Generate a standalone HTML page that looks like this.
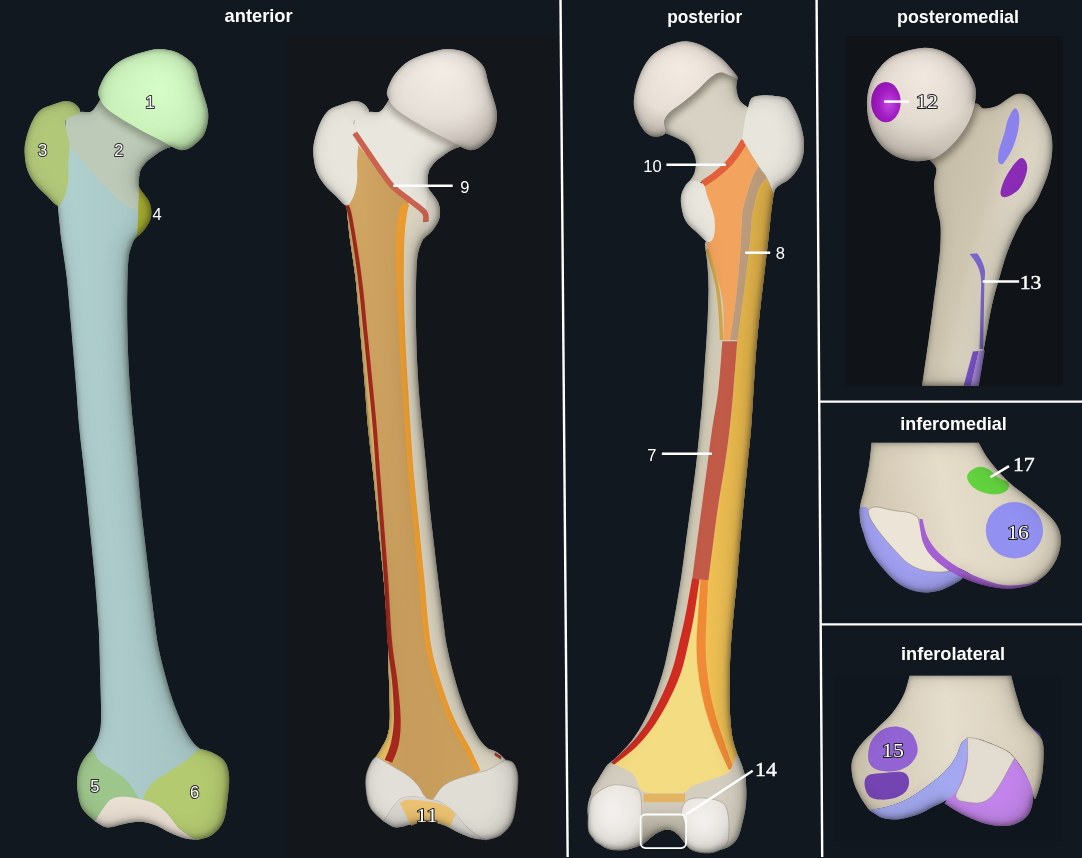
<!DOCTYPE html>
<html><head><meta charset="utf-8"><title>Femur</title>
<style>html,body{margin:0;padding:0;background:#111820;}svg{display:block}</style></head>
<body>
<svg width="1082" height="858" viewBox="0 0 1082 858">
<defs>
<filter id="inner" x="-5%" y="-5%" width="110%" height="110%" color-interpolation-filters="sRGB">
 <feGaussianBlur in="SourceAlpha" stdDeviation="3.2" result="b0"/>
 <feOffset in="b0" dx="-1.2" dy="-0.8" result="b"/>
 <feComposite in="SourceAlpha" in2="b" operator="arithmetic" k2="1" k3="-1" result="e"/>
 <feFlood flood-color="#1c1c18" flood-opacity="0.6"/>
 <feComposite in2="e" operator="in" result="sh"/>
 <feGaussianBlur in="SourceAlpha" stdDeviation="10" result="c0"/>
 <feOffset in="c0" dx="-5" dy="-2" result="c"/>
 <feComposite in="SourceAlpha" in2="c" operator="arithmetic" k2="1" k3="-1" result="e2"/>
 <feFlood flood-color="#15150f" flood-opacity="0.2"/>
 <feComposite in2="e2" operator="in" result="sh2"/>
 <feMerge><feMergeNode in="SourceGraphic"/><feMergeNode in="sh2"/><feMergeNode in="sh"/></feMerge>
</filter>
<filter id="blur3" x="-30%" y="-30%" width="160%" height="160%"><feGaussianBlur stdDeviation="3"/></filter>
<filter id="blur6" x="-30%" y="-30%" width="160%" height="160%"><feGaussianBlur stdDeviation="6"/></filter>
<clipPath id="cshaft1"><path d="M66.0,119.0C65.3,125.8 63.4,145.6 62.0,160.0C60.6,174.4 58.5,197.9 57.8,205.5C58.1,208.6 59.0,218.5 59.6,224.1C60.2,229.7 60.0,230.3 61.2,239.0C62.4,247.7 65.1,263.9 66.6,276.4C68.1,288.9 68.9,301.3 70.0,313.8C71.1,326.3 72.2,338.8 73.2,351.3C74.2,363.8 75.3,375.9 76.3,388.7C77.3,401.5 77.9,413.1 79.3,428.0C80.7,442.9 83.2,461.3 84.9,477.9C86.7,494.5 88.2,511.2 89.8,527.8C91.4,544.4 93.3,561.1 94.8,577.7C96.3,594.4 97.8,616.7 98.6,627.7C99.3,638.8 99.0,635.0 99.3,644.0C99.6,653.0 100.0,668.9 100.3,681.4C100.6,693.9 101.4,709.8 101.1,718.9C100.8,728.0 100.1,731.3 98.6,736.3C97.1,741.3 93.3,746.7 92.3,748.8C90.9,751.5 86.0,758.1 84.0,765.0C82.0,771.9 78.2,781.7 80.0,790.0C81.8,798.3 85.0,810.8 95.0,815.0C105.0,819.2 123.0,812.5 140.0,815.0C157.0,817.5 183.3,830.0 197.0,830.0C210.7,830.0 217.2,824.0 222.0,815.0C226.8,806.0 227.7,786.0 226.0,776.0C224.3,766.0 216.4,759.5 212.0,755.0C207.6,750.5 201.8,749.8 199.7,748.8C198.4,747.5 195.1,745.4 192.2,741.3C189.3,737.1 185.5,731.0 182.2,723.9C178.9,716.8 175.3,708.0 172.2,698.9C169.1,689.8 165.9,678.1 163.5,669.0C161.1,659.9 159.2,651.7 157.8,644.0C156.4,636.3 156.1,632.9 154.8,622.7C153.5,612.5 151.5,596.4 149.8,582.7C148.1,569.0 146.3,553.6 144.8,540.3C143.3,527.0 141.8,515.4 140.6,502.9C139.3,490.4 138.5,477.9 137.3,465.4C136.1,452.9 134.6,438.7 133.5,428.0C132.4,417.3 131.8,411.9 131.0,401.2C130.2,390.5 129.1,376.2 128.5,363.7C127.9,351.2 127.5,338.8 127.3,326.3C127.1,313.8 127.1,300.1 127.3,288.9C127.5,277.7 127.7,266.5 128.5,259.0C129.3,251.5 130.8,248.2 132.3,244.0C133.8,239.8 136.5,235.7 137.3,234.0C137.5,230.8 137.9,222.5 138.2,215.0C138.4,207.5 138.6,196.2 138.8,189.2C139.0,182.2 138.7,177.0 139.6,172.9C140.5,168.8 142.4,166.9 144.2,164.5C146.0,162.1 147.4,160.9 150.4,158.6C153.4,156.3 158.2,152.6 162.0,150.5C165.8,148.4 171.2,146.8 173.0,146.0C167.5,142.0 151.5,129.2 140.0,122.0C128.5,114.8 112.1,104.6 104.0,103.0C95.9,101.4 95.6,110.6 91.6,112.3C87.6,114.0 84.3,111.9 80.0,113.0C75.7,114.1 68.3,118.0 66.0,119.0Z"/></clipPath>
<clipPath id="cneck1"><path d="M66.0,117.0C68.3,116.2 75.7,113.0 80.0,112.0C84.3,111.0 88.3,113.3 91.6,111.3C94.9,109.3 98.6,101.9 100.0,100.0C106.7,103.7 127.8,114.3 140.0,122.0C152.2,129.7 167.5,142.0 173.0,146.0C171.2,146.8 165.8,148.4 162.0,150.5C158.2,152.6 153.4,156.3 150.4,158.6C147.4,160.9 146.0,162.1 144.2,164.5C142.4,166.9 140.5,168.8 139.6,172.9C138.7,177.0 139.2,182.7 138.8,189.2C138.5,195.7 137.7,208.2 137.5,212.0C136.4,211.3 134.2,209.9 131.2,208.0C128.2,206.1 124.3,204.7 119.6,200.8C114.9,196.9 108.7,190.3 103.2,184.5C97.8,178.7 92.5,172.5 86.9,165.9C81.3,159.3 72.3,148.4 69.4,144.9C68.8,142.2 66.5,133.2 65.9,128.6C65.3,123.9 66.0,118.9 66.0,117.0Z"/></clipPath>
<clipPath id="cneckP"><path d="M737.5,78.5C737.3,80.2 736.0,85.3 736.4,89.0C736.8,92.7 738.0,97.5 739.9,100.6C741.8,103.7 746.6,106.4 748.0,107.6C750.0,113.0 761.0,134.6 760.0,140.0C759.0,145.4 748.7,135.0 742.0,140.0C735.3,145.0 726.8,163.0 720.0,170.0C713.2,177.0 706.2,180.0 701.0,182.0C695.8,184.0 690.7,182.2 688.6,182.2C689.6,180.6 693.2,176.8 694.4,172.9C695.6,169.0 696.6,163.6 695.6,158.9C694.6,154.2 691.7,148.4 688.6,144.9C685.5,141.4 680.8,139.9 676.9,137.9C673.0,135.9 667.2,134.0 665.3,133.2C665.1,131.3 663.3,125.1 664.1,121.6C664.9,118.1 666.6,115.6 669.9,112.3C673.2,109.0 679.2,105.5 683.9,101.8C688.6,98.1 693.6,94.0 697.9,90.1C702.2,86.2 705.7,81.4 709.6,78.5C713.5,75.6 716.6,72.6 721.2,72.6C725.9,72.6 734.8,77.5 737.5,78.5Z"/></clipPath>
<clipPath id="cboneM"><path d="M950.0,120.0C954.0,117.3 968.8,105.8 974.3,103.9C979.8,102.0 979.6,108.0 983.3,108.4C987.0,108.8 992.2,108.0 996.7,106.1C1001.2,104.2 1006.4,99.2 1010.1,97.2C1013.8,95.2 1015.7,93.8 1019.1,93.8C1022.5,93.8 1026.6,94.0 1030.3,97.2C1034.0,100.4 1038.2,107.2 1041.5,112.8C1044.8,118.4 1048.6,124.3 1050.4,130.7C1052.2,137.0 1052.6,143.8 1052.2,150.9C1051.8,158.0 1050.4,165.8 1048.2,173.3C1046.0,180.8 1041.9,189.9 1039.2,195.7C1036.5,201.5 1034.5,204.2 1031.8,208.0C1029.1,211.8 1026.5,212.3 1022.8,218.7C1019.1,225.1 1013.1,237.3 1009.4,246.6C1005.6,255.9 1003.2,264.9 1000.3,274.6C997.4,284.3 994.3,294.8 992.0,304.9C989.7,315.0 988.1,325.5 986.3,335.2C984.5,344.9 982.8,354.8 981.3,363.2C979.8,371.6 978.0,382.0 977.4,385.8L922.1,385.8C922.4,383.6 922.8,380.1 923.9,372.5C925.0,364.9 927.0,351.2 928.6,339.9C930.2,328.6 931.8,316.6 933.3,304.9C934.8,293.2 936.7,279.6 937.9,269.9C939.1,260.2 939.9,254.4 940.3,246.6C940.7,238.8 941.0,230.2 940.3,223.3C939.6,216.4 937.0,211.5 936.0,205.0C935.0,198.5 934.0,190.5 934.0,184.5C934.0,178.5 937.0,172.9 936.3,168.8C935.5,164.7 930.6,161.3 929.5,159.8L950.0,120.0Z"/></clipPath>
<radialGradient id="headgreen" cx="0.55" cy="0.4" r="0.65"><stop offset="0" stop-color="#d6fcc8"/><stop offset="0.7" stop-color="#caf1ba"/><stop offset="1" stop-color="#b6dda6"/></radialGradient>
<radialGradient id="headwhite" cx="0.5" cy="0.2" r="0.85"><stop offset="0" stop-color="#f3ede6"/><stop offset="0.55" stop-color="#e7e0d8"/><stop offset="1" stop-color="#c3bbb2"/></radialGradient>
<radialGradient id="headwhiteP" cx="0.45" cy="0.3" r="0.75"><stop offset="0" stop-color="#f3ebe2"/><stop offset="0.6" stop-color="#e8dfd6"/><stop offset="1" stop-color="#c2b9af"/></radialGradient>
<radialGradient id="headwhiteM" cx="0.52" cy="0.25" r="0.85"><stop offset="0" stop-color="#f1e9e0"/><stop offset="0.5" stop-color="#e2d9cf"/><stop offset="1" stop-color="#b2a99f"/></radialGradient>
<radialGradient id="fovea" cx="0.6" cy="0.55" r="0.7"><stop offset="0" stop-color="#c04ae0"/><stop offset="0.5" stop-color="#a21cc2"/><stop offset="1" stop-color="#8a14aa"/></radialGradient>
<linearGradient id="yellowP" gradientUnits="userSpaceOnUse" x1="0" y1="180" x2="0" y2="640"><stop offset="0" stop-color="#dcae48"/><stop offset="0.45" stop-color="#e6b64c"/><stop offset="1" stop-color="#f0c155"/></linearGradient>
<linearGradient id="boneMg" gradientUnits="userSpaceOnUse" x1="930" y1="200" x2="1040" y2="230"><stop offset="0" stop-color="#c6bda8"/><stop offset="0.45" stop-color="#cfc6b2"/><stop offset="0.72" stop-color="#ddd6c5"/><stop offset="1" stop-color="#e4dfd2"/></linearGradient>
<linearGradient id="fossag" x1="0" y1="0" x2="0" y2="1"><stop offset="0" stop-color="#d6d1c4"/><stop offset="1" stop-color="#a9a493"/></linearGradient>
<radialGradient id="condg" cx="0.45" cy="0.4" r="0.7"><stop offset="0" stop-color="#f3f1ee"/><stop offset="0.7" stop-color="#e9e6e1"/><stop offset="1" stop-color="#cfcbc3"/></radialGradient>
<linearGradient id="boneIMg" gradientUnits="userSpaceOnUse" x1="870" y1="520" x2="1040" y2="480"><stop offset="0" stop-color="#cfc5b0"/><stop offset="0.45" stop-color="#e5dcca"/><stop offset="1" stop-color="#dad1be"/></linearGradient>
<linearGradient id="boneILg" gradientUnits="userSpaceOnUse" x1="860" y1="740" x2="1040" y2="720"><stop offset="0" stop-color="#cdc4b0"/><stop offset="0.5" stop-color="#e6decd"/><stop offset="1" stop-color="#d6cdb9"/></linearGradient>
<linearGradient id="tang" x1="0" y1="0" x2="1" y2="0"><stop offset="0" stop-color="#d4a966"/><stop offset="0.45" stop-color="#c69b5b"/><stop offset="1" stop-color="#cba15f"/></linearGradient>
<linearGradient id="shaftblue" x1="0" x2="1" y1="0" y2="0"><stop offset="0" stop-color="#b0cfcf"/><stop offset="1" stop-color="#a2c2c0"/></linearGradient>
</defs>
<rect width="1082" height="858" fill="#111820"/>
<rect x="287.8" y="37" width="270.6" height="821" fill="#13161b"/>
<g filter="url(#inner)" transform="translate(0,0)">
<path d="M138.0,188.0C139.2,184.0 139.5,188.5 141.5,191.0C143.5,193.5 148.3,198.8 149.9,203.2C151.5,207.6 151.8,212.9 151.0,217.2C150.2,221.5 147.3,225.7 145.2,228.8C143.1,231.9 140.2,234.3 138.2,235.8C136.2,237.3 133.7,241.5 133.0,238.0C132.3,234.5 133.2,223.3 134.0,215.0C134.8,206.7 136.8,192.0 138.0,188.0Z" fill="#a9b12c"/>
<path d="M66.0,119.0C65.3,125.8 63.4,145.6 62.0,160.0C60.6,174.4 58.5,197.9 57.8,205.5C58.1,208.6 59.0,218.5 59.6,224.1C60.2,229.7 60.0,230.3 61.2,239.0C62.4,247.7 65.1,263.9 66.6,276.4C68.1,288.9 68.9,301.3 70.0,313.8C71.1,326.3 72.2,338.8 73.2,351.3C74.2,363.8 75.3,375.9 76.3,388.7C77.3,401.5 77.9,413.1 79.3,428.0C80.7,442.9 83.2,461.3 84.9,477.9C86.7,494.5 88.2,511.2 89.8,527.8C91.4,544.4 93.3,561.1 94.8,577.7C96.3,594.4 97.8,616.7 98.6,627.7C99.3,638.8 99.0,635.0 99.3,644.0C99.6,653.0 100.0,668.9 100.3,681.4C100.6,693.9 101.4,709.8 101.1,718.9C100.8,728.0 100.1,731.3 98.6,736.3C97.1,741.3 93.3,746.7 92.3,748.8C90.9,751.5 86.0,758.1 84.0,765.0C82.0,771.9 78.2,781.7 80.0,790.0C81.8,798.3 85.0,810.8 95.0,815.0C105.0,819.2 123.0,812.5 140.0,815.0C157.0,817.5 183.3,830.0 197.0,830.0C210.7,830.0 217.2,824.0 222.0,815.0C226.8,806.0 227.7,786.0 226.0,776.0C224.3,766.0 216.4,759.5 212.0,755.0C207.6,750.5 201.8,749.8 199.7,748.8C198.4,747.5 195.1,745.4 192.2,741.3C189.3,737.1 185.5,731.0 182.2,723.9C178.9,716.8 175.3,708.0 172.2,698.9C169.1,689.8 165.9,678.1 163.5,669.0C161.1,659.9 159.2,651.7 157.8,644.0C156.4,636.3 156.1,632.9 154.8,622.7C153.5,612.5 151.5,596.4 149.8,582.7C148.1,569.0 146.3,553.6 144.8,540.3C143.3,527.0 141.8,515.4 140.6,502.9C139.3,490.4 138.5,477.9 137.3,465.4C136.1,452.9 134.6,438.7 133.5,428.0C132.4,417.3 131.8,411.9 131.0,401.2C130.2,390.5 129.1,376.2 128.5,363.7C127.9,351.2 127.5,338.8 127.3,326.3C127.1,313.8 127.1,300.1 127.3,288.9C127.5,277.7 127.7,266.5 128.5,259.0C129.3,251.5 130.8,248.2 132.3,244.0C133.8,239.8 136.5,235.7 137.3,234.0C137.5,230.8 137.9,222.5 138.2,215.0C138.4,207.5 138.6,196.2 138.8,189.2C139.0,182.2 138.7,177.0 139.6,172.9C140.5,168.8 142.4,166.9 144.2,164.5C146.0,162.1 147.4,160.9 150.4,158.6C153.4,156.3 158.2,152.6 162.0,150.5C165.8,148.4 171.2,146.8 173.0,146.0C167.5,142.0 151.5,129.2 140.0,122.0C128.5,114.8 112.1,104.6 104.0,103.0C95.9,101.4 95.6,110.6 91.6,112.3C87.6,114.0 84.3,111.9 80.0,113.0C75.7,114.1 68.3,118.0 66.0,119.0Z" fill="url(#shaftblue)"/>
<path d="M66.0,117.0C68.3,116.2 75.7,113.0 80.0,112.0C84.3,111.0 88.3,113.3 91.6,111.3C94.9,109.3 98.6,101.9 100.0,100.0C106.7,103.7 127.8,114.3 140.0,122.0C152.2,129.7 167.5,142.0 173.0,146.0C171.2,146.8 165.8,148.4 162.0,150.5C158.2,152.6 153.4,156.3 150.4,158.6C147.4,160.9 146.0,162.1 144.2,164.5C142.4,166.9 140.5,168.8 139.6,172.9C138.7,177.0 139.2,182.7 138.8,189.2C138.5,195.7 137.7,208.2 137.5,212.0C136.4,211.3 134.2,209.9 131.2,208.0C128.2,206.1 124.3,204.7 119.6,200.8C114.9,196.9 108.7,190.3 103.2,184.5C97.8,178.7 92.5,172.5 86.9,165.9C81.3,159.3 72.3,148.4 69.4,144.9C68.8,142.2 66.5,133.2 65.9,128.6C65.3,123.9 66.0,118.9 66.0,117.0Z" fill="#bdcab8"/>
<path d="M79.9,112.3C81.4,109.8 77.6,106.0 75.3,104.1C73.0,102.2 69.4,101.1 65.9,101.1C62.4,101.1 58.6,102.6 54.3,104.1C50.0,105.6 44.0,107.0 40.3,109.9C36.6,112.8 34.4,116.9 32.1,121.6C29.8,126.3 27.6,132.8 26.3,137.9C25.0,143.0 24.3,146.5 24.5,151.9C24.7,157.3 25.6,165.1 27.5,170.5C29.4,175.9 32.3,180.2 35.6,184.5C38.9,188.8 43.6,192.7 47.3,196.2C51.0,199.7 54.9,205.5 57.8,205.5C60.7,205.5 63.0,200.5 64.8,196.2C66.5,191.9 67.7,185.7 68.3,179.9C68.9,174.1 68.1,167.0 68.3,161.2C68.5,155.4 69.8,150.3 69.4,144.9C69.0,139.5 66.4,132.9 65.9,128.6C65.4,124.3 64.2,122.0 66.5,119.3C68.8,116.6 78.4,114.8 79.9,112.3Z" fill="#b2c879"/>
<g clip-path="url(#cneck1)"><path d="M98.6,90.1C99.7,86.0 102.8,78.7 106.5,73.8C110.2,68.9 114.9,64.3 120.6,60.8C126.3,57.3 134.1,54.8 140.5,52.8C146.9,50.8 153.0,48.9 159.2,48.9C165.4,48.9 172.0,50.0 177.8,52.8C183.6,55.6 190.4,60.3 194.1,65.6C197.8,70.8 197.7,76.5 200.0,84.3C202.3,92.1 207.3,104.2 208.1,112.3C208.9,120.4 206.9,127.8 204.6,133.2C202.3,138.6 197.5,142.1 194.1,144.9C190.7,147.7 187.3,149.5 184.0,150.0C180.7,150.5 178.6,149.7 174.5,148.0C170.4,146.3 165.2,142.8 159.5,139.8C153.8,136.8 147.2,133.7 140.5,130.0C133.8,126.3 125.4,121.5 119.6,117.8C113.8,114.1 108.9,110.8 105.6,107.6C102.3,104.3 100.9,101.2 99.7,98.3C98.5,95.4 97.5,94.2 98.6,90.1Z" transform="translate(-2,5)" fill="#1a2a10" opacity="0.28" filter="url(#blur3)"/></g>
<path d="M98.6,90.1C99.7,86.0 102.8,78.7 106.5,73.8C110.2,68.9 114.9,64.3 120.6,60.8C126.3,57.3 134.1,54.8 140.5,52.8C146.9,50.8 153.0,48.9 159.2,48.9C165.4,48.9 172.0,50.0 177.8,52.8C183.6,55.6 190.4,60.3 194.1,65.6C197.8,70.8 197.7,76.5 200.0,84.3C202.3,92.1 207.3,104.2 208.1,112.3C208.9,120.4 206.9,127.8 204.6,133.2C202.3,138.6 197.5,142.1 194.1,144.9C190.7,147.7 187.3,149.5 184.0,150.0C180.7,150.5 178.6,149.7 174.5,148.0C170.4,146.3 165.2,142.8 159.5,139.8C153.8,136.8 147.2,133.7 140.5,130.0C133.8,126.3 125.4,121.5 119.6,117.8C113.8,114.1 108.9,110.8 105.6,107.6C102.3,104.3 100.9,101.2 99.7,98.3C98.5,95.4 97.5,94.2 98.6,90.1Z" fill="url(#headgreen)"/>
<path d="M92.3,748.8C90.7,750.9 84.9,756.7 82.4,761.3C79.9,765.9 78.2,770.9 77.4,776.3C76.7,781.7 77.1,788.3 77.9,793.7C78.7,799.1 79.6,804.1 82.4,808.7C85.2,813.3 92.7,819.1 94.8,821.2C96.5,818.7 101.9,810.0 104.8,806.2C107.7,802.5 109.0,800.3 112.3,798.7C115.6,797.1 120.2,796.6 124.8,796.7C129.4,796.8 137.3,798.8 139.8,799.2C139.2,798.3 138.1,796.7 136.0,793.7C133.9,790.7 130.8,785.0 127.3,781.3C123.8,777.6 119.4,774.6 114.8,771.3C110.2,768.0 103.5,765.0 99.8,761.3C96.0,757.5 93.5,750.9 92.3,748.8Z" fill="#9dc68c"/>
<path d="M199.7,748.8C201.8,749.4 207.9,750.5 212.1,752.6C216.2,754.7 221.8,757.3 224.6,761.3C227.4,765.2 228.6,770.1 229.1,776.3C229.6,782.5 228.5,791.2 227.6,798.7C226.7,806.2 226.0,815.2 223.4,821.2C220.8,827.2 216.5,831.8 212.1,834.9C207.7,838.0 199.7,839.1 197.2,839.9C195.9,839.3 193.0,838.5 189.7,836.2C186.4,833.9 180.9,830.0 177.2,826.2C173.4,822.5 170.9,817.5 167.2,813.7C163.4,810.0 158.6,806.1 154.7,803.7C150.8,801.3 145.4,800.0 143.5,799.2C143.9,797.9 144.1,794.2 146.0,791.2C147.9,788.2 150.8,784.6 154.7,781.3C158.6,778.0 164.7,774.6 169.7,771.3C174.7,768.0 179.7,765.0 184.7,761.3C189.7,757.5 197.2,750.9 199.7,748.8Z" fill="#b4ca70"/>
<path d="M94.8,821.2C96.5,818.7 101.9,810.0 104.8,806.2C107.7,802.5 109.0,800.3 112.3,798.7C115.6,797.1 120.2,796.6 124.8,796.7C129.4,796.8 134.8,798.0 139.8,799.2C144.8,800.4 150.1,801.3 154.7,803.7C159.3,806.1 163.4,810.0 167.2,813.7C170.9,817.5 173.4,822.5 177.2,826.2C180.9,830.0 186.4,833.9 189.7,836.2C193.0,838.5 195.9,839.3 197.2,839.9C195.1,839.6 189.3,839.5 184.7,838.2C180.1,837.0 174.7,834.6 169.7,832.4C164.7,830.2 159.7,826.7 154.7,824.9C149.7,823.1 144.8,821.9 139.8,821.7C134.8,821.5 130.2,822.8 124.8,823.7C119.4,824.7 112.3,827.8 107.3,827.4C102.3,827.0 96.9,822.2 94.8,821.2Z" fill="#eadfd3"/>
</g>
<g filter="url(#inner)" transform="translate(288.7,0)">
<path d="M138.0,188.0C139.2,184.0 139.5,188.5 141.5,191.0C143.5,193.5 148.3,198.8 149.9,203.2C151.5,207.6 151.8,212.9 151.0,217.2C150.2,221.5 147.3,225.7 145.2,228.8C143.1,231.9 140.2,234.3 138.2,235.8C136.2,237.3 133.7,241.5 133.0,238.0C132.3,234.5 133.2,223.3 134.0,215.0C134.8,206.7 136.8,192.0 138.0,188.0Z" fill="#dedace"/>
<path d="M66.0,119.0C65.3,125.8 63.4,145.6 62.0,160.0C60.6,174.4 58.5,197.9 57.8,205.5C58.1,208.6 59.0,218.5 59.6,224.1C60.2,229.7 60.0,230.3 61.2,239.0C62.4,247.7 65.1,263.9 66.6,276.4C68.1,288.9 68.9,301.3 70.0,313.8C71.1,326.3 72.2,338.8 73.2,351.3C74.2,363.8 75.3,375.9 76.3,388.7C77.3,401.5 77.9,413.1 79.3,428.0C80.7,442.9 83.2,461.3 84.9,477.9C86.7,494.5 88.2,511.2 89.8,527.8C91.4,544.4 93.3,561.1 94.8,577.7C96.3,594.4 97.8,616.7 98.6,627.7C99.3,638.8 99.0,635.0 99.3,644.0C99.6,653.0 100.0,668.9 100.3,681.4C100.6,693.9 101.4,709.8 101.1,718.9C100.8,728.0 100.1,731.3 98.6,736.3C97.1,741.3 93.3,746.7 92.3,748.8C90.9,751.5 86.0,758.1 84.0,765.0C82.0,771.9 78.2,781.7 80.0,790.0C81.8,798.3 85.0,810.8 95.0,815.0C105.0,819.2 123.0,812.5 140.0,815.0C157.0,817.5 183.3,830.0 197.0,830.0C210.7,830.0 217.2,824.0 222.0,815.0C226.8,806.0 227.7,786.0 226.0,776.0C224.3,766.0 216.4,759.5 212.0,755.0C207.6,750.5 201.8,749.8 199.7,748.8C198.4,747.5 195.1,745.4 192.2,741.3C189.3,737.1 185.5,731.0 182.2,723.9C178.9,716.8 175.3,708.0 172.2,698.9C169.1,689.8 165.9,678.1 163.5,669.0C161.1,659.9 159.2,651.7 157.8,644.0C156.4,636.3 156.1,632.9 154.8,622.7C153.5,612.5 151.5,596.4 149.8,582.7C148.1,569.0 146.3,553.6 144.8,540.3C143.3,527.0 141.8,515.4 140.6,502.9C139.3,490.4 138.5,477.9 137.3,465.4C136.1,452.9 134.6,438.7 133.5,428.0C132.4,417.3 131.8,411.9 131.0,401.2C130.2,390.5 129.1,376.2 128.5,363.7C127.9,351.2 127.5,338.8 127.3,326.3C127.1,313.8 127.1,300.1 127.3,288.9C127.5,277.7 127.7,266.5 128.5,259.0C129.3,251.5 130.8,248.2 132.3,244.0C133.8,239.8 136.5,235.7 137.3,234.0C137.5,230.8 137.9,222.5 138.2,215.0C138.4,207.5 138.6,196.2 138.8,189.2C139.0,182.2 138.7,177.0 139.6,172.9C140.5,168.8 142.4,166.9 144.2,164.5C146.0,162.1 147.4,160.9 150.4,158.6C153.4,156.3 158.2,152.6 162.0,150.5C165.8,148.4 171.2,146.8 173.0,146.0C167.5,142.0 151.5,129.2 140.0,122.0C128.5,114.8 112.1,104.6 104.0,103.0C95.9,101.4 95.6,110.6 91.6,112.3C87.6,114.0 84.3,111.9 80.0,113.0C75.7,114.1 68.3,118.0 66.0,119.0Z" fill="#dad3c0"/>
<path d="M66.0,133.0C69.1,137.5 78.3,151.2 84.5,160.0C90.7,168.8 97.0,178.9 103.2,185.7C109.4,192.5 118.8,198.3 121.9,200.8C120.6,203.0 115.7,207.6 114.0,214.0C112.3,220.4 111.9,226.5 111.5,239.0C111.1,251.5 111.2,272.3 111.5,288.9C111.8,305.5 112.7,322.2 113.5,338.8C114.3,355.4 115.6,373.8 116.5,388.7C117.4,403.6 118.0,413.1 119.0,428.0C120.0,442.9 121.2,461.3 122.7,478.0C124.2,494.7 126.0,511.3 127.7,528.0C129.4,544.7 130.8,559.0 132.7,578.0C134.6,597.0 136.3,624.8 139.0,642.0C141.7,659.2 145.0,668.6 148.9,681.4C152.8,694.2 157.6,707.7 162.5,718.9C167.4,730.1 174.0,740.1 178.5,748.8C183.0,757.5 187.7,767.5 189.5,771.3L189.5,772.0C188.6,772.3 188.6,772.4 184.2,773.9C179.8,775.4 168.4,778.6 163.1,780.9C157.8,783.2 155.5,785.1 152.6,787.9C149.7,790.7 147.4,795.4 145.6,797.6C143.8,799.8 142.5,800.7 141.5,801.0C140.5,801.3 140.5,800.4 139.4,799.4C138.3,798.4 136.6,797.2 135.0,795.0C133.4,792.8 132.4,789.4 129.8,786.2C127.2,783.0 123.9,779.2 119.2,775.7C114.5,772.2 107.0,768.3 101.7,765.1C96.4,761.9 89.9,757.8 87.6,756.3C88.4,755.0 90.5,752.1 92.3,748.8C94.1,745.5 97.1,741.3 98.6,736.3C100.1,731.3 100.8,728.0 101.1,718.9C101.4,709.8 100.6,693.9 100.3,681.4C100.0,668.9 99.6,653.0 99.3,644.0C99.0,635.0 99.3,638.8 98.6,627.7C97.8,616.7 96.3,594.4 94.8,577.7C93.3,561.1 91.4,544.4 89.8,527.8C88.2,511.2 86.7,494.5 84.9,477.9C83.2,461.3 80.7,442.9 79.3,428.0C77.9,413.1 77.3,401.5 76.3,388.7C75.3,375.9 74.2,363.8 73.2,351.3C72.2,338.8 71.1,326.3 70.0,313.8C68.9,301.3 68.1,288.9 66.6,276.4C65.1,263.9 62.4,247.7 61.2,239.0C60.0,230.3 60.2,229.7 59.6,224.1C59.0,218.5 58.1,208.6 57.8,205.5C59.0,203.9 63.0,200.5 64.8,196.2C66.5,191.9 67.7,185.7 68.3,179.9C68.9,174.1 68.1,167.0 68.3,161.2C68.5,155.4 69.8,149.6 69.4,144.9C69.0,140.2 66.6,135.0 66.0,133.0Z" fill="url(#tang)"/>
<path d="M87.6,756.3C88.4,755.0 90.5,752.1 92.3,748.8C94.1,745.5 97.1,741.3 98.6,736.3C100.1,731.3 100.8,728.0 101.1,718.9C101.4,709.8 100.6,693.9 100.3,681.4C100.0,668.9 99.5,650.2 99.3,644.0C100.1,650.2 102.8,668.9 104.0,681.4C105.2,693.9 106.5,708.5 106.6,718.9C106.7,729.3 105.6,736.4 104.5,743.8C103.4,751.1 100.6,759.8 99.8,763.0L87.6,756.3Z" fill="#e6c060"/>
<g clip-path="url(#cshaft1)"><path d="M61.1,214.0C62.2,220.2 65.5,238.9 67.4,251.4C69.3,263.9 70.7,274.3 72.4,288.9C74.1,303.5 75.7,322.2 77.4,338.8C79.1,355.4 81.0,373.8 82.4,388.7C83.9,403.6 84.9,413.1 86.1,428.0C87.3,442.9 88.5,461.3 89.8,478.0C91.0,494.7 92.3,511.3 93.6,528.0C94.8,544.7 96.0,559.0 97.3,578.0C98.5,597.0 99.6,624.8 101.1,642.0C102.6,659.2 104.8,668.6 106.1,681.4C107.3,694.2 108.6,708.5 108.6,718.9C108.6,729.3 107.6,736.7 106.1,743.8C104.6,750.9 100.8,758.4 99.8,761.3" transform="translate(-3.2,0)" fill="none" stroke="#dfc070" stroke-width="4.5"/></g>
<path d="M52.6,196.6C53.3,198.1 55.3,202.7 56.4,205.6C57.5,208.6 57.8,206.7 59.3,214.4C60.9,222.0 63.7,239.2 65.5,251.7C67.4,264.1 68.8,274.6 70.4,289.1C72.1,303.7 73.7,322.4 75.4,339.0C77.1,355.6 79.0,374.0 80.4,388.9C81.9,403.8 82.9,413.3 84.1,428.2C85.3,443.0 86.6,461.5 87.8,478.1C89.1,494.8 90.4,511.5 91.6,528.1C92.8,544.8 94.0,559.1 95.2,578.1C96.4,597.1 97.4,624.9 98.8,642.2C100.2,659.4 102.3,668.9 103.4,681.7C104.5,694.4 105.4,708.7 105.2,718.9C105.0,729.1 103.7,736.1 102.2,743.0C100.7,749.8 97.1,757.1 96.0,759.9L103.6,762.7C104.6,759.6 108.6,751.9 110.0,744.6C111.4,737.3 112.2,729.5 112.0,718.9C111.8,708.3 110.2,694.0 108.8,681.1C107.4,668.3 105.0,659.0 103.4,641.8C101.8,624.6 100.7,596.9 99.4,577.9C98.1,558.9 96.9,544.5 95.6,527.9C94.3,511.2 93.0,494.5 91.8,477.9C90.5,461.2 89.3,442.7 88.1,427.8C86.9,412.9 85.8,403.4 84.4,388.5C82.9,373.6 81.1,355.2 79.4,338.6C77.7,322.0 76.1,303.3 74.4,288.7C72.7,274.1 71.2,263.6 69.3,251.1C67.4,238.6 64.5,221.4 62.9,213.6C61.2,205.9 60.8,207.4 59.6,204.4C58.3,201.3 56.1,196.9 55.4,195.4Z" fill="#a8281e"/>
<path d="M113.9,202.9C113.2,204.7 110.9,207.3 109.8,213.3C108.7,219.3 107.6,226.2 107.3,238.9C106.9,251.5 107.4,272.3 107.9,289.0C108.4,305.7 109.5,322.3 110.4,339.0C111.4,355.6 112.6,374.0 113.6,388.9C114.6,403.8 115.2,413.3 116.2,428.2C117.3,443.1 118.5,461.6 119.9,478.2C121.4,494.9 123.2,511.6 124.9,528.3C126.6,545.0 128.0,559.3 129.9,578.3C131.8,597.3 133.5,625.1 136.2,642.4C139.0,659.8 142.3,669.3 146.2,682.2C150.2,695.2 155.0,708.7 159.9,720.0C164.9,731.3 171.5,741.3 176.0,750.1C180.5,758.8 185.3,768.7 187.2,772.4L191.8,770.2C190.0,766.4 185.5,756.2 181.0,747.5C176.5,738.8 170.0,728.9 165.1,717.8C160.2,706.6 155.5,693.3 151.6,680.6C147.7,667.9 144.4,658.7 141.8,641.6C139.1,624.4 137.4,596.7 135.5,577.7C133.6,558.7 132.2,544.4 130.5,527.7C128.8,511.1 126.9,494.4 125.5,477.8C124.0,461.1 122.8,442.7 121.8,427.8C120.8,412.9 120.3,403.4 119.4,388.5C118.5,373.7 117.3,355.3 116.6,338.6C115.9,322.0 115.2,305.4 115.1,288.8C115.0,272.2 115.2,251.5 115.7,239.1C116.3,226.8 117.4,220.4 118.2,214.7C119.0,209.0 120.1,206.7 120.5,205.1Z" fill="#ea9c30"/>
<path d="M66.0,117.0C68.3,116.2 75.7,113.0 80.0,112.0C84.3,111.0 88.3,113.3 91.6,111.3C94.9,109.3 98.6,101.9 100.0,100.0C106.7,103.7 127.8,114.3 140.0,122.0C152.2,129.7 167.5,142.0 173.0,146.0C171.2,146.8 165.8,148.4 162.0,150.5C158.2,152.6 153.4,156.3 150.4,158.6C147.4,160.9 146.0,162.1 144.2,164.5C142.4,166.9 140.5,168.8 139.6,172.9C138.7,177.0 139.2,182.7 138.8,189.2C138.5,195.7 137.7,208.2 137.5,212.0C136.4,211.3 134.2,209.9 131.2,208.0C128.2,206.1 124.3,204.7 119.6,200.8C114.9,196.9 108.7,190.3 103.2,184.5C97.8,178.7 92.5,172.5 86.9,165.9C81.3,159.3 72.3,148.4 69.4,144.9C68.8,142.2 66.5,133.2 65.9,128.6C65.3,123.9 66.0,118.9 66.0,117.0Z" fill="#e9e6dd"/>
<path d="M79.9,112.3C81.4,109.8 77.6,106.0 75.3,104.1C73.0,102.2 69.4,101.1 65.9,101.1C62.4,101.1 58.6,102.6 54.3,104.1C50.0,105.6 44.0,107.0 40.3,109.9C36.6,112.8 34.4,116.9 32.1,121.6C29.8,126.3 27.6,132.8 26.3,137.9C25.0,143.0 24.3,146.5 24.5,151.9C24.7,157.3 25.6,165.1 27.5,170.5C29.4,175.9 32.3,180.2 35.6,184.5C38.9,188.8 43.6,192.7 47.3,196.2C51.0,199.7 54.9,205.5 57.8,205.5C60.7,205.5 63.0,200.5 64.8,196.2C66.5,191.9 67.7,185.7 68.3,179.9C68.9,174.1 68.1,167.0 68.3,161.2C68.5,155.4 69.8,150.3 69.4,144.9C69.0,139.5 66.4,132.9 65.9,128.6C65.4,124.3 64.2,122.0 66.5,119.3C68.8,116.6 78.4,114.8 79.9,112.3Z" fill="#e8e5dc"/>
<path d="M66.0,133.0C69.1,137.5 78.3,151.2 84.5,160.0C90.7,168.8 97.0,178.9 103.2,185.7C109.4,192.5 116.5,196.3 121.9,200.8C127.4,205.3 133.4,209.0 135.9,212.5C138.4,216.0 136.8,220.4 137.0,222.0" fill="none" stroke="#cb6250" stroke-width="5.6"/>
<g clip-path="url(#cneck1)"><path d="M98.6,90.1C99.7,86.0 102.8,78.7 106.5,73.8C110.2,68.9 114.9,64.3 120.6,60.8C126.3,57.3 134.1,54.8 140.5,52.8C146.9,50.8 153.0,48.9 159.2,48.9C165.4,48.9 172.0,50.0 177.8,52.8C183.6,55.6 190.4,60.3 194.1,65.6C197.8,70.8 197.7,76.5 200.0,84.3C202.3,92.1 207.3,104.2 208.1,112.3C208.9,120.4 206.9,127.8 204.6,133.2C202.3,138.6 197.5,142.1 194.1,144.9C190.7,147.7 187.3,149.5 184.0,150.0C180.7,150.5 178.6,149.7 174.5,148.0C170.4,146.3 165.2,142.8 159.5,139.8C153.8,136.8 147.2,133.7 140.5,130.0C133.8,126.3 125.4,121.5 119.6,117.8C113.8,114.1 108.9,110.8 105.6,107.6C102.3,104.3 100.9,101.2 99.7,98.3C98.5,95.4 97.5,94.2 98.6,90.1Z" transform="translate(-2,5)" fill="#2a2418" opacity="0.32" filter="url(#blur3)"/></g>
<path d="M98.6,90.1C99.7,86.0 102.8,78.7 106.5,73.8C110.2,68.9 114.9,64.3 120.6,60.8C126.3,57.3 134.1,54.8 140.5,52.8C146.9,50.8 153.0,48.9 159.2,48.9C165.4,48.9 172.0,50.0 177.8,52.8C183.6,55.6 190.4,60.3 194.1,65.6C197.8,70.8 197.7,76.5 200.0,84.3C202.3,92.1 207.3,104.2 208.1,112.3C208.9,120.4 206.9,127.8 204.6,133.2C202.3,138.6 197.5,142.1 194.1,144.9C190.7,147.7 187.3,149.5 184.0,150.0C180.7,150.5 178.6,149.7 174.5,148.0C170.4,146.3 165.2,142.8 159.5,139.8C153.8,136.8 147.2,133.7 140.5,130.0C133.8,126.3 125.4,121.5 119.6,117.8C113.8,114.1 108.9,110.8 105.6,107.6C102.3,104.3 100.9,101.2 99.7,98.3C98.5,95.4 97.5,94.2 98.6,90.1Z" fill="url(#headwhite)"/>
<path d="M87.6,756.3C86.7,757.3 84.1,759.2 82.4,762.5C80.7,765.8 78.2,771.1 77.4,776.3C76.7,781.5 77.1,788.3 77.9,793.7C78.7,799.1 79.6,804.1 82.4,808.7C85.2,813.3 92.7,819.1 94.8,821.2C96.5,818.7 101.9,810.0 104.8,806.2C107.7,802.5 109.0,800.3 112.3,798.7C115.6,797.1 120.2,796.6 124.8,796.7C129.4,796.8 137.3,798.8 139.8,799.2C139.0,798.5 136.7,797.2 135.0,795.0C133.3,792.8 132.4,789.4 129.8,786.2C127.2,783.0 123.9,779.2 119.2,775.7C114.5,772.2 107.0,768.3 101.7,765.1C96.4,761.9 89.9,757.8 87.6,756.3Z" fill="#e2dfd8" stroke="#9a9588" stroke-width="0.5"/>
<path d="M216.0,760.0C217.4,760.5 222.4,760.3 224.6,763.0C226.8,765.7 228.6,770.3 229.1,776.3C229.6,782.2 228.5,791.2 227.6,798.7C226.7,806.2 226.0,815.2 223.4,821.2C220.8,827.2 216.5,831.8 212.1,834.9C207.7,838.0 199.7,839.1 197.2,839.9C195.9,839.3 193.0,838.5 189.7,836.2C186.4,833.9 180.9,830.0 177.2,826.2C173.4,822.5 170.9,817.5 167.2,813.7C163.4,810.0 158.6,806.1 154.7,803.7C150.8,801.3 145.4,800.0 143.5,799.2C143.8,798.9 144.1,799.5 145.6,797.6C147.1,795.7 149.7,790.7 152.6,787.9C155.5,785.1 157.8,783.2 163.1,780.9C168.4,778.6 178.0,775.8 184.2,773.9C190.3,772.0 194.7,771.8 200.0,769.5C205.3,767.2 213.3,761.6 216.0,760.0Z" fill="#e0ddd5" stroke="#9a9588" stroke-width="0.5"/>
<path d="M206.5,752.5 L212.5,756.5 L212,759.5 L205.5,755Z" fill="#b5382c"/>
<path d="M94.8,821.2C96.5,818.7 101.9,810.0 104.8,806.2C107.7,802.5 109.0,800.3 112.3,798.7C115.6,797.1 120.2,796.6 124.8,796.7C129.4,796.8 134.8,798.0 139.8,799.2C144.8,800.4 150.1,801.3 154.7,803.7C159.3,806.1 163.4,810.0 167.2,813.7C170.9,817.5 173.4,822.5 177.2,826.2C180.9,830.0 186.4,833.9 189.7,836.2C193.0,838.5 195.9,839.3 197.2,839.9C195.1,839.6 189.3,839.5 184.7,838.2C180.1,837.0 174.7,834.6 169.7,832.4C164.7,830.2 159.7,826.7 154.7,824.9C149.7,823.1 144.8,821.9 139.8,821.7C134.8,821.5 130.2,822.8 124.8,823.7C119.4,824.7 112.3,827.8 107.3,827.4C102.3,827.0 96.9,822.2 94.8,821.2Z" fill="#d9d6d1"/>
<path d="M111.3,802.9C112.6,802.4 115.5,800.2 119.0,799.8C122.5,799.4 127.6,800.0 132.0,800.5C136.4,801.0 141.0,801.4 145.6,802.5C150.2,803.6 156.1,805.3 159.6,807.3C163.1,809.3 165.5,813.1 166.7,814.3L161.4,826.5C159.5,825.9 153.8,823.9 150.0,823.0C146.2,822.1 141.9,821.4 138.6,821.3C135.3,821.2 132.6,821.8 130.0,822.5C127.4,823.2 124.0,825.2 122.8,825.7C121.9,824.1 119.4,819.8 117.5,816.0C115.6,812.2 112.3,805.1 111.3,802.9Z" fill="#ecc272"/>
</g>
<g filter="url(#inner)">
<path d="M742.2,137.9C741.7,136.8 742.5,128.2 739.0,131.0C735.5,133.8 728.0,147.5 721.0,155.0C714.0,162.5 700.3,171.7 697.0,176.0C693.7,180.3 700.7,180.2 701.4,181.0C702.3,184.2 705.2,192.7 707.0,200.0C708.8,207.3 712.4,217.7 712.0,225.0C711.6,232.3 706.0,240.8 704.8,244.0C705.2,247.3 706.7,256.4 707.3,263.9C707.9,271.4 708.5,278.5 708.5,288.9C708.5,299.3 707.9,313.8 707.3,326.3C706.7,338.8 705.6,351.2 704.8,363.7C704.0,376.2 703.1,390.5 702.3,401.2C701.5,411.9 700.8,417.3 699.8,428.0C698.8,438.7 697.5,452.9 696.0,465.4C694.5,477.9 692.8,490.4 691.1,502.9C689.5,515.4 687.8,527.8 686.1,540.3C684.4,552.8 683.0,565.2 681.1,577.7C679.2,590.2 676.8,604.2 674.8,615.2C672.8,626.2 671.4,634.2 669.3,644.0C667.2,653.8 665.5,663.2 662.3,674.0C659.1,684.8 654.5,698.5 649.9,708.9C645.3,719.3 639.9,728.8 634.9,736.3C629.9,743.8 624.5,749.0 619.9,753.8C615.3,758.6 609.5,763.1 607.4,765.0C606.0,767.3 601.4,774.0 598.7,778.8C596.0,783.6 591.0,788.5 591.2,793.7C591.4,798.9 581.9,806.5 600.0,810.0C618.1,813.5 676.7,815.8 700.0,815.0C723.3,814.2 732.3,810.2 740.0,805.0C747.7,799.8 745.6,790.2 746.0,783.8C746.4,777.3 743.7,771.3 742.2,766.3C740.7,761.3 738.0,755.9 737.2,753.8C736.4,750.9 733.5,744.2 732.2,736.3C731.0,728.4 730.1,716.8 729.7,706.4C729.3,696.0 729.5,684.4 729.7,674.0C729.9,663.6 730.4,653.8 731.0,644.0C731.6,634.2 732.5,626.2 733.5,615.2C734.5,604.2 736.1,590.2 737.2,577.7C738.3,565.2 739.1,552.8 740.2,540.3C741.3,527.8 742.5,515.4 743.7,502.9C744.9,490.4 746.2,477.9 747.4,465.4C748.6,452.9 750.1,440.8 751.1,428.0C752.1,415.2 752.8,401.5 753.6,388.7C754.4,375.9 755.1,363.8 756.1,351.3C757.1,338.8 758.4,326.3 759.7,313.8C761.0,301.3 762.5,288.9 764.0,276.4C765.5,263.9 767.2,249.4 768.4,239.0C769.6,228.6 770.1,221.5 771.0,214.0C771.9,206.5 773.2,197.2 773.7,193.8C772.5,191.1 769.2,182.2 766.7,177.5C764.2,172.8 762.0,171.3 758.5,165.9C755.0,160.5 748.4,149.6 745.7,144.9C743.0,140.2 742.8,139.1 742.2,137.9Z" fill="#d2cbb8"/>
<path d="M766.7,177.5L773.7,193.8C773.2,197.2 771.9,206.5 771.0,214.0C770.1,221.5 769.6,228.6 768.4,239.0C767.2,249.4 765.5,263.9 764.0,276.4C762.5,288.9 761.0,301.3 759.7,313.8C758.4,326.3 757.1,338.8 756.1,351.3C755.1,363.8 754.4,375.9 753.6,388.7C752.8,401.5 752.1,415.2 751.1,428.0C750.1,440.8 748.6,452.9 747.4,465.4C746.2,477.9 744.9,490.4 743.7,502.9C742.5,515.4 741.3,527.8 740.2,540.3C739.1,552.8 738.3,565.2 737.2,577.7C736.1,590.2 734.5,604.2 733.5,615.2C732.5,626.2 731.6,634.2 731.0,644.0C730.4,653.8 729.9,663.6 729.7,674.0C729.5,684.4 729.3,696.0 729.7,706.4C730.1,716.8 731.0,728.4 732.2,736.3C733.5,744.2 736.4,750.9 737.2,753.8L734.0,768.0C732.3,764.0 727.1,752.0 724.0,743.8C720.9,735.6 717.8,727.2 715.3,718.9C712.8,710.6 710.7,702.2 709.0,693.9C707.3,685.6 706.1,677.3 705.3,669.0C704.5,660.7 703.9,653.0 704.0,644.0C704.1,635.0 705.2,625.6 705.8,615.2C706.4,604.8 707.2,587.1 707.5,581.5C708.5,574.6 711.7,553.4 713.5,540.3C715.3,527.2 716.6,515.4 718.5,502.9C720.4,490.4 722.8,477.9 724.7,465.4C726.6,452.9 728.2,440.8 729.7,428.0C731.2,415.2 732.2,403.4 733.5,388.7C734.8,374.0 736.6,348.1 737.2,340.0L737.6,340.0C738.2,335.6 739.6,324.4 741.0,313.8C742.4,303.2 744.4,288.9 745.9,276.4C747.4,263.9 749.2,249.4 750.2,239.0C751.2,228.6 751.6,219.2 752.2,214.0C752.8,208.8 752.8,211.9 753.8,207.8C754.8,203.7 756.4,194.2 758.5,189.2C760.6,184.1 765.3,179.4 766.7,177.5Z" fill="url(#yellowP)"/>
<path d="M745.7,144.9L758.5,165.9C757.3,168.2 753.8,173.7 751.5,179.9C749.2,186.1 746.0,197.5 744.5,203.2C743.0,208.9 742.9,206.0 742.2,214.0C741.5,222.0 741.1,238.9 740.2,251.4C739.3,263.9 738.2,277.7 737.0,288.9C735.8,300.1 734.4,310.3 733.2,318.8C732.0,327.3 730.5,336.5 730.0,340.0L729.7,340.0L723.5,340.0C723.4,333.6 724.5,314.0 722.8,301.3C721.1,288.6 716.0,273.1 713.5,263.9C711.0,254.7 708.2,252.5 707.5,246.0C706.8,239.5 709.2,233.3 709.0,225.0C708.8,216.7 706.7,202.5 706.0,196.2C705.3,189.8 705.1,188.4 704.9,186.9C708.8,183.8 721.4,175.2 728.2,168.2C735.0,161.2 742.8,148.8 745.7,144.9Z" fill="#f2a35e"/>
<path d="M707,249 C710,257 713,268 716.5,283 C719.5,298 721,320 721.5,340" fill="none" stroke="#cfa548" stroke-width="3.4"/>
<path d="M758.5,165.9L766.7,177.5C765.3,179.4 760.6,184.1 758.5,189.2C756.4,194.2 754.8,203.7 753.8,207.8C752.8,211.9 752.8,208.8 752.2,214.0C751.6,219.2 751.2,228.6 750.2,239.0C749.2,249.4 747.4,263.9 745.9,276.4C744.4,288.9 742.4,303.2 741.0,313.8C739.6,324.4 738.2,335.6 737.6,340.0L737.2,340.0L729.7,340.0L730.0,340.0C730.5,336.5 732.0,327.3 733.2,318.8C734.4,310.3 735.8,300.1 737.0,288.9C738.2,277.7 739.3,263.9 740.2,251.4C741.1,238.9 741.5,222.0 742.2,214.0C742.9,206.0 743.0,208.9 744.5,203.2C746.0,197.5 749.2,186.1 751.5,179.9C753.8,173.7 757.3,168.2 758.5,165.9Z" fill="#bd9c7c"/>
<path d="M722.3,341.3L737.2,341.3C736.6,349.2 734.8,374.2 733.5,388.7C732.2,403.1 731.2,415.2 729.7,428.0C728.2,440.8 726.6,452.9 724.7,465.4C722.8,477.9 720.4,490.4 718.5,502.9C716.6,515.4 715.2,527.4 713.5,540.3C711.8,553.2 709.3,573.6 708.5,580.2L692.3,579.0C693.1,572.5 695.6,553.0 697.3,540.3C699.0,527.6 700.6,515.4 702.3,502.9C704.0,490.4 705.6,477.9 707.3,465.4C709.0,452.9 710.4,440.8 712.3,428.0C714.2,415.2 716.8,403.1 718.5,388.7C720.2,374.2 721.7,349.2 722.3,341.3Z" fill="#c25a48"/>
<path d="M697.0,580.0L706.0,581.0C705.4,586.7 703.1,604.7 702.3,615.2C701.5,625.7 701.0,635.0 701.0,644.0C701.0,653.0 701.5,660.7 702.3,669.0C703.1,677.3 704.3,685.6 706.0,693.9C707.7,702.2 709.8,710.6 712.3,718.9C714.8,727.2 717.9,735.5 721.0,743.8C724.1,752.1 729.3,764.6 731.0,768.8C730.4,769.6 730.7,771.9 727.2,773.8C723.7,775.7 715.6,777.9 709.8,780.0C704.0,782.1 696.5,784.2 692.3,786.3C688.1,788.4 689.4,791.3 684.8,792.5C680.2,793.7 671.9,793.9 664.8,793.7C657.7,793.5 647.8,794.5 642.4,791.2C637.0,787.9 637.4,778.4 632.4,773.8C627.4,769.2 615.7,765.5 612.4,763.8C616.1,760.5 628.2,750.9 634.9,743.8C641.6,736.7 647.0,729.7 652.4,721.4C657.8,713.1 663.1,702.6 667.3,693.9C671.4,685.2 674.6,677.3 677.3,669.0C680.0,660.7 681.5,653.0 683.6,644.0C685.7,635.0 687.6,625.9 689.8,615.2C692.0,604.5 695.8,585.9 697.0,580.0Z" fill="#f4dc82"/>
<path d="M692.1,578.4C691.0,584.4 687.8,603.7 685.6,614.4C683.5,625.2 681.3,634.1 679.2,643.0C677.1,651.8 675.6,659.4 673.0,667.6C670.4,675.8 667.4,683.5 663.5,692.1C659.5,700.7 654.4,711.1 649.3,719.4C644.1,727.6 639.1,734.6 632.7,741.7C626.4,748.9 614.8,759.0 611.2,762.5L613.6,765.1C617.5,761.9 630.1,752.8 637.1,745.9C644.1,738.9 649.9,731.8 655.5,723.4C661.2,715.1 666.8,704.6 671.1,695.7C675.5,686.9 678.8,678.8 681.6,670.4C684.4,661.9 685.9,654.1 688.0,645.0C690.0,635.9 692.1,626.9 694.0,616.0C695.9,605.1 698.6,585.7 699.5,579.6Z" fill="#d02c22"/>
<path d="M700.6,579.8C700.1,585.7 698.7,604.3 698.1,615.0C697.4,625.7 696.5,634.9 696.5,644.0C696.5,653.1 696.9,661.0 697.8,669.4C698.7,677.9 700.1,686.3 701.8,694.7C703.6,703.2 705.8,711.7 708.5,720.1C711.1,728.4 714.4,736.7 717.7,745.0C721.1,753.3 726.9,765.6 728.7,769.7L733.3,767.9C731.8,763.7 727.1,750.9 724.3,742.6C721.4,734.2 718.5,726.0 716.1,717.7C713.8,709.5 711.7,701.3 710.2,693.1C708.6,684.9 707.6,676.7 706.8,668.6C706.0,660.4 705.5,652.9 705.5,644.0C705.5,635.1 706.1,626.1 706.5,615.4C707.0,604.8 707.8,586.1 708.0,580.2Z" fill="#f08a36"/>
<path d="M737.5,78.5C737.3,80.2 736.0,85.3 736.4,89.0C736.8,92.7 738.0,97.5 739.9,100.6C741.8,103.7 746.6,106.4 748.0,107.6C750.0,113.0 761.0,134.6 760.0,140.0C759.0,145.4 748.7,135.0 742.0,140.0C735.3,145.0 726.8,163.0 720.0,170.0C713.2,177.0 706.2,180.0 701.0,182.0C695.8,184.0 690.7,182.2 688.6,182.2C689.6,180.6 693.2,176.8 694.4,172.9C695.6,169.0 696.6,163.6 695.6,158.9C694.6,154.2 691.7,148.4 688.6,144.9C685.5,141.4 680.8,139.9 676.9,137.9C673.0,135.9 667.2,134.0 665.3,133.2C665.1,131.3 663.3,125.1 664.1,121.6C664.9,118.1 666.6,115.6 669.9,112.3C673.2,109.0 679.2,105.5 683.9,101.8C688.6,98.1 693.6,94.0 697.9,90.1C702.2,86.2 705.7,81.4 709.6,78.5C713.5,75.6 716.6,72.6 721.2,72.6C725.9,72.6 734.8,77.5 737.5,78.5Z" fill="#d7d2c3"/>
<path d="M744.3,141 C738,152.5 731,161.5 724,168 C717,174.5 710,179.5 702.8,183.8" fill="none" stroke="#e2603c" stroke-width="6.8"/>
<path d="M690.0,181.0C686.4,182.6 683.0,189.3 681.6,193.8C680.2,198.3 680.8,203.1 681.6,207.8C682.4,212.5 683.5,217.5 686.2,221.8C688.9,226.1 694.3,230.1 697.9,233.5C701.5,236.9 705.3,241.6 708.0,242.0C710.7,242.4 713.0,240.2 714.0,236.0C715.0,231.8 715.3,223.7 714.2,217.0C713.1,210.3 709.1,201.5 707.2,196.0C705.3,190.5 705.9,186.5 703.0,184.0C700.1,181.5 693.6,179.4 690.0,181.0Z" fill="#e9e6de"/>
<path d="M748.0,107.6C748.6,106.0 749.4,100.3 751.5,98.3C753.6,96.3 756.9,95.9 760.8,95.5C764.7,95.1 770.5,95.4 774.8,95.9C779.1,96.4 783.4,96.3 786.5,98.3C789.6,100.2 791.2,103.3 793.5,107.6C795.8,111.9 798.8,118.1 800.5,123.9C802.2,129.7 803.8,136.4 804.0,142.6C804.2,148.8 803.8,155.4 801.6,161.2C799.5,167.0 795.2,173.2 791.1,177.5C787.0,181.8 780.1,184.2 777.2,186.9C774.3,189.6 774.3,192.7 773.7,193.8C772.5,191.1 769.2,182.2 766.7,177.5C764.2,172.8 762.0,171.3 758.5,165.9C755.0,160.5 748.4,149.6 745.7,144.9C743.0,140.2 742.8,139.1 742.2,137.9C742.7,134.9 744.0,125.0 745.0,120.0C746.0,115.0 747.5,109.7 748.0,107.6Z" fill="#e8e5dd"/>
<g clip-path="url(#cneckP)"><path d="M633.8,105.3C633.4,99.5 634.5,92.8 636.1,86.6C637.7,80.4 640.2,73.4 643.1,68.0C646.0,62.6 649.1,57.9 653.6,54.0C658.1,50.1 664.5,46.8 669.9,44.7C675.3,42.6 680.8,41.0 686.2,41.2C691.7,41.4 697.2,43.3 702.6,45.8C708.0,48.3 714.2,52.6 718.9,56.3C723.5,60.0 727.4,64.3 730.5,68.0C733.6,71.7 739.0,77.7 737.5,78.5C736.0,79.3 725.9,72.6 721.2,72.6C716.6,72.6 713.5,75.6 709.6,78.5C705.7,81.4 702.2,86.2 697.9,90.1C693.6,94.0 688.6,98.1 683.9,101.8C679.2,105.5 673.2,109.0 669.9,112.3C666.6,115.6 664.9,118.1 664.1,121.6C663.3,125.1 666.7,130.7 665.3,133.2C663.9,135.7 659.0,136.7 655.9,136.7C652.8,136.7 649.5,135.7 646.6,133.2C643.7,130.7 640.6,126.2 638.5,121.6C636.4,116.9 634.2,111.1 633.8,105.3Z" transform="translate(3,5)" fill="#2a2418" opacity="0.4" filter="url(#blur3)"/></g>
<path d="M633.8,105.3C633.4,99.5 634.5,92.8 636.1,86.6C637.7,80.4 640.2,73.4 643.1,68.0C646.0,62.6 649.1,57.9 653.6,54.0C658.1,50.1 664.5,46.8 669.9,44.7C675.3,42.6 680.8,41.0 686.2,41.2C691.7,41.4 697.2,43.3 702.6,45.8C708.0,48.3 714.2,52.6 718.9,56.3C723.5,60.0 727.4,64.3 730.5,68.0C733.6,71.7 739.0,77.7 737.5,78.5C736.0,79.3 725.9,72.6 721.2,72.6C716.6,72.6 713.5,75.6 709.6,78.5C705.7,81.4 702.2,86.2 697.9,90.1C693.6,94.0 688.6,98.1 683.9,101.8C679.2,105.5 673.2,109.0 669.9,112.3C666.6,115.6 664.9,118.1 664.1,121.6C663.3,125.1 666.7,130.7 665.3,133.2C663.9,135.7 659.0,136.7 655.9,136.7C652.8,136.7 649.5,135.7 646.6,133.2C643.7,130.7 640.6,126.2 638.5,121.6C636.4,116.9 634.2,111.1 633.8,105.3Z" fill="url(#headwhiteP)"/>
<path d="M612.4,763.8C611.6,764.0 609.7,762.5 607.4,765.0C605.1,767.5 601.4,774.0 598.7,778.8C596.0,783.6 593.1,788.7 591.2,793.7C589.3,798.7 587.7,803.3 587.5,808.7C587.3,814.1 588.5,821.0 590.0,826.2C591.5,831.4 593.3,836.2 596.2,839.9C599.1,843.6 602.6,846.9 607.4,848.6C612.2,850.3 619.3,850.5 624.9,849.9C630.5,849.3 637.9,846.0 641.1,844.9C644.3,843.8 643.5,843.5 644.0,843.2C645.0,842.4 647.2,840.2 649.9,838.2C652.5,836.2 656.6,832.9 659.9,831.5C663.2,830.1 666.8,829.2 669.8,829.8C672.8,830.3 675.7,832.6 678.2,834.8C680.7,837.0 683.7,841.8 684.8,843.2C686.0,843.9 688.1,846.1 692.3,847.4C696.5,848.7 704.0,851.1 709.8,851.1C715.6,851.1 722.6,849.5 727.2,847.4C731.8,845.3 734.7,842.7 737.2,838.7C739.7,834.8 740.7,829.5 742.2,823.7C743.7,817.9 745.4,810.4 746.0,803.7C746.6,797.1 746.6,790.0 746.0,783.8C745.4,777.6 743.7,771.3 742.2,766.3C740.7,761.3 738.0,755.9 737.2,753.8C736.2,756.3 732.7,765.5 731.0,768.8C729.3,772.1 730.7,771.9 727.2,773.8C723.7,775.7 715.6,777.9 709.8,780.0C704.0,782.1 696.5,784.2 692.3,786.3C688.1,788.4 689.4,791.3 684.8,792.5C680.2,793.7 671.9,793.9 664.8,793.7C657.7,793.5 647.8,794.5 642.4,791.2C637.0,787.9 637.4,778.4 632.4,773.8C627.4,769.2 615.7,765.5 612.4,763.8Z" fill="#d3cec0"/>
<path d="M643.0,801.0C650.2,801.0 678.8,793.7 686.0,801.0C693.2,808.3 686.4,837.7 686.5,845.0C685.1,843.3 681.0,837.3 678.2,834.8C675.4,832.3 672.8,830.3 669.8,829.8C666.8,829.2 663.2,830.1 659.9,831.5C656.6,832.9 652.8,836.0 649.9,838.2C647.0,840.5 643.7,843.9 642.5,845.0L643.0,801.0Z" fill="url(#fossag)"/>
<rect x="643.6" y="793.7" width="41.5" height="8.5" fill="#e2b463"/>
<path d="M590.0,803.0C588.6,808.8 587.8,822.1 588.3,828.0C588.8,833.9 591.6,835.7 593.3,838.2C595.0,840.7 595.0,841.3 598.3,843.2C601.6,845.1 607.2,849.2 613.3,849.8C619.4,850.3 630.3,848.4 634.9,846.5C639.5,844.6 639.6,843.5 640.7,838.2C641.8,832.9 641.6,822.1 641.6,814.9C641.6,807.7 641.8,799.3 640.7,794.9C639.6,790.5 639.5,789.9 634.9,788.2C630.3,786.5 619.7,784.1 613.3,784.9C606.9,785.7 600.5,790.2 596.6,793.2C592.7,796.2 591.4,797.2 590.0,803.0Z" fill="url(#condg)" stroke="#a9a498" stroke-width="0.7"/>
<path d="M681.5,811.5C681.9,806.8 684.0,802.1 688.1,799.9C692.2,797.7 700.6,797.7 706.4,798.2C712.2,798.8 719.5,800.4 723.1,803.2C726.7,806.0 727.1,810.2 728.1,814.9C729.1,819.6 729.2,826.5 728.9,831.5C728.6,836.5 729.0,841.3 726.4,844.8C723.8,848.3 718.1,851.2 713.1,852.3C708.1,853.4 700.9,852.8 696.5,851.5C692.1,850.2 688.3,848.7 686.5,844.8C684.7,840.9 686.4,833.5 685.6,828.0C684.8,822.5 681.1,816.2 681.5,811.5Z" fill="url(#condg)" stroke="#a9a498" stroke-width="0.7"/>
</g>
<rect x="846.5" y="36.3" width="216.5" height="349.5" fill="#101318"/>
<g filter="url(#inner)">
<path d="M950.0,120.0C954.0,117.3 968.8,105.8 974.3,103.9C979.8,102.0 979.6,108.0 983.3,108.4C987.0,108.8 992.2,108.0 996.7,106.1C1001.2,104.2 1006.4,99.2 1010.1,97.2C1013.8,95.2 1015.7,93.8 1019.1,93.8C1022.5,93.8 1026.6,94.0 1030.3,97.2C1034.0,100.4 1038.2,107.2 1041.5,112.8C1044.8,118.4 1048.6,124.3 1050.4,130.7C1052.2,137.0 1052.6,143.8 1052.2,150.9C1051.8,158.0 1050.4,165.8 1048.2,173.3C1046.0,180.8 1041.9,189.9 1039.2,195.7C1036.5,201.5 1034.5,204.2 1031.8,208.0C1029.1,211.8 1026.5,212.3 1022.8,218.7C1019.1,225.1 1013.1,237.3 1009.4,246.6C1005.6,255.9 1003.2,264.9 1000.3,274.6C997.4,284.3 994.3,294.8 992.0,304.9C989.7,315.0 988.1,325.5 986.3,335.2C984.5,344.9 982.8,354.8 981.3,363.2C979.8,371.6 978.0,382.0 977.4,385.8L922.1,385.8C922.4,383.6 922.8,380.1 923.9,372.5C925.0,364.9 927.0,351.2 928.6,339.9C930.2,328.6 931.8,316.6 933.3,304.9C934.8,293.2 936.7,279.6 937.9,269.9C939.1,260.2 939.9,254.4 940.3,246.6C940.7,238.8 941.0,230.2 940.3,223.3C939.6,216.4 937.0,211.5 936.0,205.0C935.0,198.5 934.0,190.5 934.0,184.5C934.0,178.5 937.0,172.9 936.3,168.8C935.5,164.7 930.6,161.3 929.5,159.8L950.0,120.0Z" fill="url(#boneMg)"/>
<path d="M1014.6,108.4C1016.5,107.7 1018.5,111.4 1019.1,115.1C1019.7,118.8 1019.1,125.1 1018.0,130.7C1016.9,136.3 1014.8,143.2 1012.4,148.6C1010.0,154.0 1005.7,160.9 1003.4,163.2C1001.1,165.4 999.2,164.1 998.5,162.1C997.8,160.1 997.9,155.8 998.9,150.9C999.9,146.1 1003.0,138.2 1004.5,133.0C1006.0,127.8 1006.2,123.6 1007.9,119.5C1009.6,115.4 1012.7,109.1 1014.6,108.4Z" fill="#8c82ee"/>
<path d="M1021.3,158.1C1023.7,157.7 1026.2,161.4 1026.9,164.3C1027.7,167.2 1027.1,171.4 1025.8,175.5C1024.5,179.6 1022.3,185.3 1019.1,188.9C1015.9,192.5 1009.9,195.9 1006.8,196.8C1003.7,197.7 1001.3,196.9 1000.7,194.5C1000.1,192.1 1001.5,186.8 1003.4,182.2C1005.3,177.5 1009.4,170.6 1012.4,166.6C1015.4,162.6 1018.9,158.5 1021.3,158.1Z" fill="#8b2cb6"/>
<path d="M969.4,253.9 L977.1,253.3 C980,257 983.5,263 984.9,270.7 C985.3,275 984.6,279 984.4,281.5 L983.2,349 L979.5,349 L981.2,281.5 C981,277 980.4,274 979.5,270.7 C978,265 974,259 969.4,253.9Z" fill="#7866cc"/>
<path d="M972.9,351.6 L978.7,351 L971,385.8 L963.6,385.8Z" fill="#7a52c6"/>
<path d="M978.7,351 L984.6,350.4 L978.7,385.8 L971,385.8Z" fill="#a88ae6"/>
<g clip-path="url(#cboneM)"><path d="M866.9,103.9C866.9,96.8 868.0,89.9 870.2,83.7C872.4,77.5 876.0,71.8 880.3,66.9C884.6,62.1 888.9,57.8 896.0,54.6C903.1,51.4 914.6,48.3 922.8,47.9C931.0,47.5 938.5,49.4 945.2,52.4C951.9,55.4 958.2,60.6 963.1,65.8C968.0,71.0 972.2,78.1 974.3,83.7C976.3,89.3 976.1,93.4 975.4,99.4C974.6,105.4 972.6,113.2 969.8,119.5C967.0,125.8 963.1,131.9 958.6,137.5C954.1,143.1 947.9,149.4 943.0,153.1C938.1,156.8 934.4,158.5 929.5,159.8C924.6,161.1 919.5,161.6 913.9,161.0C908.3,160.4 901.6,159.3 896.0,156.5C890.4,153.7 884.6,149.2 880.3,144.2C876.0,139.2 872.4,133.0 870.2,126.3C868.0,119.6 866.9,111.0 866.9,103.9Z" transform="translate(3,5)" fill="#2a2418" opacity="0.4" filter="url(#blur3)"/></g>
<path d="M866.9,103.9C866.9,96.8 868.0,89.9 870.2,83.7C872.4,77.5 876.0,71.8 880.3,66.9C884.6,62.1 888.9,57.8 896.0,54.6C903.1,51.4 914.6,48.3 922.8,47.9C931.0,47.5 938.5,49.4 945.2,52.4C951.9,55.4 958.2,60.6 963.1,65.8C968.0,71.0 972.2,78.1 974.3,83.7C976.3,89.3 976.1,93.4 975.4,99.4C974.6,105.4 972.6,113.2 969.8,119.5C967.0,125.8 963.1,131.9 958.6,137.5C954.1,143.1 947.9,149.4 943.0,153.1C938.1,156.8 934.4,158.5 929.5,159.8C924.6,161.1 919.5,161.6 913.9,161.0C908.3,160.4 901.6,159.3 896.0,156.5C890.4,153.7 884.6,149.2 880.3,144.2C876.0,139.2 872.4,133.0 870.2,126.3C868.0,119.6 866.9,111.0 866.9,103.9Z" fill="url(#headwhiteM)"/>
<ellipse cx="885.9" cy="102.1" rx="14.8" ry="20.1" fill="url(#fovea)"/>
</g>
<g filter="url(#inner)">
<path d="M871.5,442.8C871.1,446.5 870.3,457.4 869.1,465.0C867.9,472.6 866.0,480.9 864.5,488.3C863.0,495.7 860.0,502.4 859.8,509.3C859.5,516.2 859.6,524.0 863.0,530.0C866.4,536.0 877.2,542.5 880.0,545.0L937.9,572.0C941.0,571.3 949.6,566.4 956.6,567.6C963.6,568.8 972.1,576.1 979.9,579.2C987.7,582.3 995.4,585.2 1003.2,586.2C1011.0,587.2 1019.9,586.5 1026.5,585.0C1033.1,583.5 1038.1,580.6 1042.8,576.9C1047.5,573.2 1051.6,567.9 1054.5,562.9C1057.4,557.9 1059.5,552.0 1060.3,546.6C1061.1,541.2 1061.0,535.3 1059.2,530.3C1057.5,525.2 1054.5,521.4 1049.8,516.3C1045.1,511.2 1038.2,505.7 1031.2,499.9C1024.2,494.1 1014.9,487.9 1007.9,481.3C1000.9,474.7 994.1,466.7 989.2,460.3C984.3,453.9 980.5,445.7 978.7,442.8L871.5,442.8Z" fill="url(#boneIMg)"/>
<path d="M859.8,509.3C859.3,512.0 860.4,519.4 861.0,523.3C861.6,527.2 861.8,528.0 863.3,532.6C864.8,537.2 866.8,545.0 870.3,551.2C873.8,557.4 879.2,564.3 884.3,569.9C889.3,575.5 894.8,581.3 900.6,585.0C906.4,588.7 913.1,591.0 919.3,592.0C925.5,593.0 932.1,592.2 937.9,590.9C943.7,589.5 950.1,586.2 954.2,583.9C958.3,581.6 963.2,579.0 962.4,576.9C961.6,574.8 955.7,573.1 949.6,571.1C943.5,569.1 934.3,568.2 926.0,565.0C917.7,561.8 907.7,557.8 900.0,552.0C892.3,546.2 885.2,537.0 880.0,530.0C874.8,523.0 871.7,513.8 869.0,510.0C866.3,506.2 865.5,507.1 864.0,507.0C862.5,506.9 860.3,506.6 859.8,509.3Z" fill="#a09ff0"/>
<path d="M868.0,510.4C869.2,509.8 870.7,506.9 875.0,506.9C879.3,506.9 887.8,509.4 893.6,510.4C899.4,511.4 905.8,511.6 909.9,512.8C914.0,514.0 916.7,516.6 918.1,517.4C918.5,519.1 919.0,523.0 920.4,527.9C921.8,532.8 923.4,541.1 926.3,546.6C929.2,552.1 934.0,556.5 937.9,560.6C941.8,564.7 947.6,569.4 949.6,571.1C947.6,571.3 942.6,572.4 937.9,572.2C933.2,572.0 926.6,571.5 921.6,569.9C916.6,568.3 912.3,566.4 907.6,562.9C902.9,559.4 898.3,553.9 893.6,548.9C888.9,543.9 883.5,537.6 879.6,532.6C875.7,527.6 872.2,522.3 870.3,518.6C868.4,514.9 868.4,511.8 868.0,510.4Z" fill="#ece4d7" stroke="#8d8676" stroke-width="0.6"/>
<path d="M919.3,519.0C919.9,522.8 920.5,535.4 922.8,541.9C925.1,548.4 928.4,553.2 933.3,558.2C938.1,563.2 944.9,568.1 951.9,572.2C958.9,576.3 966.7,580.0 975.2,582.7C983.8,585.4 994.7,587.9 1003.2,588.5C1011.8,589.1 1020.4,587.5 1026.5,586.2C1032.6,584.9 1037.8,581.5 1040.0,580.5C1037.8,581.1 1032.6,583.2 1026.5,584.0C1020.4,584.8 1011.0,586.0 1003.2,585.0C995.4,584.0 987.7,581.1 979.9,578.0C972.1,574.9 963.4,570.7 956.6,566.5C949.8,562.3 943.9,557.9 939.0,553.0C934.1,548.1 930.2,542.7 927.5,537.0C924.8,531.3 923.3,522.0 922.5,519.0L919.3,519.0Z" fill="#a45fd4"/>
<path d="M967.1,477.8C966.7,475.1 968.5,472.6 970.6,470.8C972.7,469.0 976.8,467.0 979.9,466.8C983.0,466.6 986.1,467.8 989.2,469.6C992.3,471.4 995.4,475.7 998.5,477.8C1001.6,479.9 1006.3,480.6 1007.9,482.5C1009.5,484.4 1009.5,487.6 1007.9,489.5C1006.3,491.4 1002.4,493.5 998.5,494.1C994.6,494.7 988.9,494.1 984.6,492.9C980.3,491.7 975.8,489.6 972.9,487.1C970.0,484.6 967.5,480.5 967.1,477.8Z" fill="#62d23e"/>
<ellipse cx="1014.4" cy="530.3" rx="28.6" ry="28.2" fill="#9291f2"/>
</g>
<rect x="834" y="675.5" width="228" height="165.3" fill="#10161d"/>
<g filter="url(#inner)">
<path d="M1022,720 L1040,733.8 L1043,745 L1030,735Z" fill="#6a3cc8"/>
<path d="M909.6,675.7C908.6,678.9 906.7,688.4 903.8,694.6C900.9,700.8 896.9,707.3 892.3,713.1C887.7,718.9 881.6,723.8 876.2,729.2C870.8,734.6 864.0,740.0 860.0,745.4C856.0,750.8 853.0,755.7 851.9,761.5C850.8,767.3 851.8,774.2 853.1,780.0C854.5,785.8 857.3,791.2 860.0,796.2C862.7,801.2 867.7,807.7 869.2,810.0C872.3,809.4 881.2,808.4 887.7,806.5C894.2,804.6 901.6,802.1 908.5,798.5C915.4,794.9 923.1,789.2 929.2,784.6C935.4,780.0 941.0,775.4 945.4,770.8C949.8,766.2 953.1,761.5 955.8,756.9C958.5,752.3 959.6,746.2 961.5,743.1C963.4,740.0 966.3,739.3 967.3,738.5C969.4,738.7 973.6,737.7 980.0,739.6C986.4,741.5 999.6,746.9 1005.4,750.0C1011.2,753.1 1011.1,753.9 1014.6,758.1C1018.1,762.3 1023.1,769.5 1026.2,775.4C1029.3,781.3 1031.9,790.7 1033.1,793.8C1033.5,794.6 1034.1,800.8 1035.4,798.5C1036.8,796.2 1039.9,786.5 1041.2,780.0C1042.5,773.5 1043.3,765.7 1043.5,759.2C1043.7,752.7 1044.0,745.8 1042.3,740.8C1040.6,735.8 1036.2,733.1 1033.1,729.2C1030.0,725.4 1026.5,723.1 1023.8,717.7C1021.1,712.3 1019.0,703.9 1016.9,696.9C1014.8,689.9 1012.2,679.2 1011.2,675.7L909.6,675.7Z" fill="url(#boneILg)"/>
<path d="M967,738 L1014.6,758 L1033,794 L1028,814 L990,824 L945,803 L962,770Z" fill="#c284ea"/>
<path d="M967.3,738.5C966.3,739.3 963.4,740.0 961.5,743.1C959.6,746.2 958.5,752.3 955.8,756.9C953.1,761.5 949.8,766.2 945.4,770.8C941.0,775.4 935.4,780.0 929.2,784.6C923.1,789.2 915.4,794.9 908.5,798.5C901.6,802.1 894.2,804.6 887.7,806.5C881.2,808.4 872.3,809.4 869.2,810.0C871.5,811.4 878.1,816.6 883.1,818.1C888.1,819.6 893.4,819.8 899.2,819.2C905.0,818.6 911.9,816.7 917.7,814.6C923.5,812.5 929.6,808.6 933.8,806.5C938.0,804.4 939.6,804.0 943.1,801.9C946.6,799.8 951.5,797.4 954.6,793.8C957.7,790.1 959.6,785.4 961.5,780.0C963.4,774.6 965.0,766.9 966.2,761.5C967.4,756.1 968.3,751.5 968.5,747.7C968.7,743.9 967.5,740.0 967.3,738.5Z" fill="#a3a8f0"/>
<path d="M1014.6,758.1C1016.5,761.0 1023.1,769.5 1026.2,775.4C1029.3,781.3 1032.7,787.3 1033.1,793.8C1033.5,800.3 1032.0,809.4 1028.5,814.6C1025.0,819.8 1018.5,823.3 1012.3,825.0C1006.1,826.7 998.0,826.0 991.5,825.0C985.0,824.0 979.2,821.7 973.1,819.2C967.0,816.7 959.4,812.7 954.6,810.0C949.8,807.3 945.9,804.2 944.2,803.1C946.7,802.7 953.6,800.8 959.2,800.8C964.8,800.8 972.7,803.5 977.7,803.1C982.7,802.7 985.7,801.2 989.2,798.5C992.7,795.8 995.4,791.5 998.5,786.9C1001.6,782.3 1005.0,775.6 1007.7,770.8C1010.4,766.0 1013.5,760.2 1014.6,758.1Z" fill="#c284ea"/>
<path d="M967.3,737.3C969.4,737.7 973.6,737.5 980.0,739.6C986.4,741.7 999.6,746.9 1005.4,750.0C1011.2,753.1 1013.1,756.8 1014.6,758.1C1013.5,760.2 1010.4,766.0 1007.7,770.8C1005.0,775.6 1001.6,782.3 998.5,786.9C995.4,791.5 992.7,795.8 989.2,798.5C985.7,801.2 982.7,802.7 977.7,803.1C972.7,803.5 962.3,801.2 959.2,800.8C958.6,799.8 955.2,798.5 955.8,795.0C956.4,791.5 960.8,785.6 962.7,780.0C964.6,774.4 966.5,768.6 967.3,761.5C968.1,754.4 967.3,741.3 967.3,737.3Z" fill="#e3dcd0" stroke="#8d8676" stroke-width="0.5"/>
<path d="M868.1,756.9C868.1,752.7 869.0,745.4 871.5,740.8C874.0,736.2 878.5,731.5 883.1,729.2C887.7,726.9 894.4,726.1 899.2,726.9C904.0,727.7 908.8,729.9 911.9,733.8C915.0,737.6 917.9,745.0 917.7,750.0C917.5,755.0 914.3,760.3 910.8,763.8C907.3,767.3 901.9,769.6 896.9,770.8C891.9,772.0 885.0,771.6 880.8,770.8C876.6,770.0 873.6,768.5 871.5,766.2C869.4,763.9 868.1,761.1 868.1,756.9Z" fill="#9263d2"/>
<path d="M864.6,784.6C864.4,781.1 865.0,777.3 868.1,775.4C871.2,773.5 877.5,773.7 883.1,773.1C888.7,772.5 897.3,771.1 901.5,771.9C905.7,772.7 907.5,774.8 908.5,777.7C909.5,780.6 909.2,785.9 907.3,789.2C905.4,792.5 901.3,795.6 896.9,797.3C892.5,799.0 885.4,799.8 880.8,799.6C876.2,799.4 871.9,798.7 869.2,796.2C866.5,793.7 864.8,788.1 864.6,784.6Z" fill="#7444b2"/>
</g>
<line x1="560.5" y1="0" x2="567.67" y2="857" stroke="#fff" stroke-width="2.4"/>
<line x1="816.6" y1="0" x2="822.2" y2="857" stroke="#fff" stroke-width="2.4"/>
<line x1="819.2" y1="401.6" x2="1082" y2="401.6" stroke="#fff" stroke-width="2.4"/>
<line x1="820.7" y1="624.4" x2="1082" y2="624.4" stroke="#fff" stroke-width="2.4"/>
<text x="258.6" y="21.8" font-family="Liberation Sans, sans-serif" font-weight="bold" font-size="19" fill="#fff" text-anchor="middle" textLength="68" lengthAdjust="spacingAndGlyphs">anterior</text>
<text x="704.7" y="23.3" font-family="Liberation Sans, sans-serif" font-weight="bold" font-size="19" fill="#fff" text-anchor="middle" textLength="75" lengthAdjust="spacingAndGlyphs">posterior</text>
<text x="958" y="22.5" font-family="Liberation Sans, sans-serif" font-weight="bold" font-size="19" fill="#fff" text-anchor="middle" textLength="122" lengthAdjust="spacingAndGlyphs">posteromedial</text>
<text x="953.5" y="429.8" font-family="Liberation Sans, sans-serif" font-weight="bold" font-size="19" fill="#fff" text-anchor="middle" textLength="106.5" lengthAdjust="spacingAndGlyphs">inferomedial</text>
<text x="953" y="660.4" font-family="Liberation Sans, sans-serif" font-weight="bold" font-size="19" fill="#fff" text-anchor="middle" textLength="104" lengthAdjust="spacingAndGlyphs">inferolateral</text>
<text x="150" y="107.5" font-family="Liberation Sans, sans-serif" font-size="17" fill="#fff" text-anchor="middle" textLength="9.2" lengthAdjust="spacingAndGlyphs" stroke="#2a2a2a" stroke-width="2" paint-order="stroke" stroke-linejoin="round">1</text>
<text x="118.9" y="155.5" font-family="Liberation Sans, sans-serif" font-size="17" fill="#fff" text-anchor="middle" textLength="9.2" lengthAdjust="spacingAndGlyphs" stroke="#2a2a2a" stroke-width="2" paint-order="stroke" stroke-linejoin="round">2</text>
<text x="42.7" y="155.5" font-family="Liberation Sans, sans-serif" font-size="17" fill="#fff" text-anchor="middle" textLength="9.2" lengthAdjust="spacingAndGlyphs" stroke="#2a2a2a" stroke-width="2" paint-order="stroke" stroke-linejoin="round">3</text>
<text x="157" y="219.7" font-family="Liberation Sans, sans-serif" font-size="17" fill="#fff" text-anchor="middle" textLength="9.2" lengthAdjust="spacingAndGlyphs" >4</text>
<text x="94.8" y="791.7" font-family="Liberation Sans, sans-serif" font-size="17" fill="#fff" text-anchor="middle" textLength="9.2" lengthAdjust="spacingAndGlyphs" stroke="#2a2a2a" stroke-width="2" paint-order="stroke" stroke-linejoin="round">5</text>
<text x="194.7" y="798.2" font-family="Liberation Sans, sans-serif" font-size="17" fill="#fff" text-anchor="middle" textLength="9.2" lengthAdjust="spacingAndGlyphs" stroke="#2a2a2a" stroke-width="2" paint-order="stroke" stroke-linejoin="round">6</text>
<line x1="393.2" y1="185.7" x2="452.7" y2="185.7" stroke="#fff" stroke-width="2.5"/>
<text x="464.8" y="193.0" font-family="Liberation Sans, sans-serif" font-size="17" fill="#fff" text-anchor="middle" textLength="9.2" lengthAdjust="spacingAndGlyphs" >9</text>
<line x1="666.4" y1="164.7" x2="725.9" y2="164.7" stroke="#fff" stroke-width="2.5"/>
<text x="652.4" y="172.2" font-family="Liberation Sans, sans-serif" font-size="17" fill="#fff" text-anchor="middle" textLength="18.4" lengthAdjust="spacingAndGlyphs" >10</text>
<line x1="745.2" y1="252.7" x2="770.2" y2="252.7" stroke="#fff" stroke-width="2.5"/>
<text x="780.4" y="259.2" font-family="Liberation Sans, sans-serif" font-size="17" fill="#fff" text-anchor="middle" textLength="9.2" lengthAdjust="spacingAndGlyphs" >8</text>
<line x1="661.9" y1="453.7" x2="711.8" y2="453.7" stroke="#fff" stroke-width="2.5"/>
<text x="651.9" y="461.2" font-family="Liberation Sans, sans-serif" font-size="17" fill="#fff" text-anchor="middle" textLength="9.2" lengthAdjust="spacingAndGlyphs" >7</text>
<text x="427" y="822.3" font-family="Liberation Serif, serif" font-size="19.6" fill="#fff" text-anchor="middle" textLength="21.8" lengthAdjust="spacingAndGlyphs" stroke="#1a1a1a" stroke-width="1.9" paint-order="stroke" stroke-linejoin="round">11</text>
<rect x="640.6" y="814.5" width="45.5" height="33.6" rx="5" fill="none" stroke="#fff" stroke-width="1.8"/>
<line x1="686.1" y1="814.5" x2="752.7" y2="770.8" stroke="#fff" stroke-width="2.5"/>
<text x="766" y="776.3" font-family="Liberation Serif, serif" font-size="19.6" fill="#fff" text-anchor="middle" textLength="21.8" lengthAdjust="spacingAndGlyphs" stroke="#fff" stroke-width="0.4">14</text>
<line x1="884.1" y1="101.6" x2="909" y2="101.6" stroke="#fff" stroke-width="2.5"/>
<text x="927" y="108.1" font-family="Liberation Serif, serif" font-size="19.6" fill="#fff" text-anchor="middle" textLength="21.8" lengthAdjust="spacingAndGlyphs" stroke="#1a1a1a" stroke-width="1.9" paint-order="stroke" stroke-linejoin="round">12</text>
<line x1="982.7" y1="281.6" x2="1019.1" y2="281.6" stroke="#fff" stroke-width="2.5"/>
<text x="1030.6" y="288.6" font-family="Liberation Serif, serif" font-size="19.6" fill="#fff" text-anchor="middle" textLength="21.8" lengthAdjust="spacingAndGlyphs" stroke="#fff" stroke-width="0.4">13</text>
<line x1="990.4" y1="477.3" x2="1009" y2="466.1" stroke="#fff" stroke-width="2.5"/>
<text x="1023.8" y="471.1" font-family="Liberation Serif, serif" font-size="19.6" fill="#fff" text-anchor="middle" textLength="21.8" lengthAdjust="spacingAndGlyphs" stroke="#fff" stroke-width="0.4">17</text>
<text x="1018.1" y="538.8" font-family="Liberation Serif, serif" font-size="19.6" fill="#fff" text-anchor="middle" textLength="21.8" lengthAdjust="spacingAndGlyphs" stroke="#1a1a1a" stroke-width="1.9" paint-order="stroke" stroke-linejoin="round">16</text>
<text x="892.9" y="757.0" font-family="Liberation Serif, serif" font-size="19.6" fill="#fff" text-anchor="middle" textLength="21.8" lengthAdjust="spacingAndGlyphs" stroke="#1a1a1a" stroke-width="1.9" paint-order="stroke" stroke-linejoin="round">15</text>
</svg>
</body></html>
